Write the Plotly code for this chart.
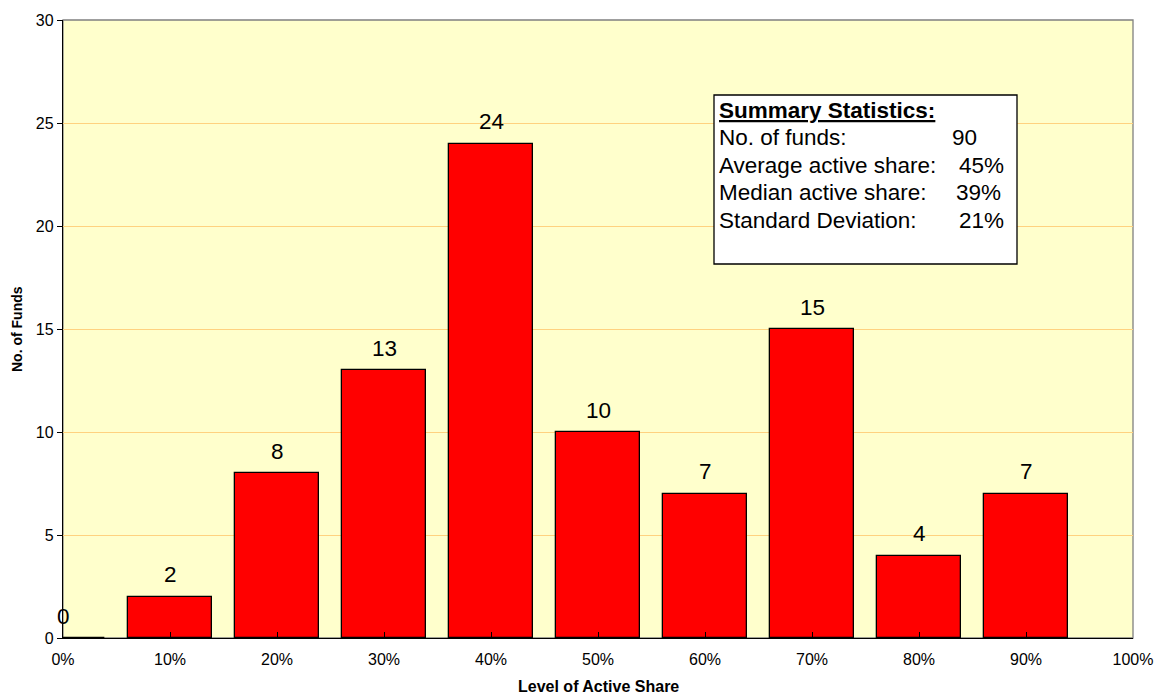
import plotly.graph_objects as go

# Data
bin_centers = [0.0, 0.1, 0.2, 0.3, 0.4, 0.5, 0.6, 0.7, 0.8, 0.9]
fund_counts = [0, 2, 8, 13, 24, 10, 7, 15, 4, 7]
x_tick_vals = [0.0, 0.1, 0.2, 0.3, 0.4, 0.5, 0.6, 0.7, 0.8, 0.9, 1.0]
x_tick_text = ["0%", "10%", "20%", "30%", "40%", "50%", "60%", "70%", "80%", "90%", "100%"]
y_tick_vals = [0, 5, 10, 15, 20, 25, 30]
stat_labels = ["No. of funds:", "Average active share:", "Median active share:", "Standard Deviation:"]
stat_values = ["90", "45%", "39%", "21%"]
x_title = "Level of Active Share"
y_title = "No. of Funds"

FONT = "Liberation Sans, Arial, sans-serif"

# plot-area geometry (pixels) used to place the summary box and titles
W, H = 1156, 694
L, R, T, B = 63, 23, 20, 56
PW, PH = W - L - R, H - T - B


def px(xp):
    return (xp - L) / PW


def py(yp):
    return (H - B - yp) / PH


fig = go.Figure()
fig.add_trace(go.Bar(
    x=bin_centers, y=fund_counts, width=0.078,
    marker=dict(color="#FF0000", line=dict(color="#000000", width=1.3)),
    hoverinfo="skip",
))

annotations = []
for xv, yv in zip(bin_centers, fund_counts):
    annotations.append(dict(
        x=xv, y=yv, xref="x", yref="y", text=str(yv), showarrow=False,
        yanchor="middle", xanchor="center", yshift=22,
        font=dict(family=FONT, size=22.5, color="#000000"),
    ))

# summary statistics box
annotations.append(dict(
    x=px(717), y=py(111), xref="paper", yref="paper", xanchor="left", yanchor="middle",
    text="<u><b>Summary Statistics:</b></u>", showarrow=False,
    font=dict(family=FONT, size=22.5, color="#000000"),
))
line_y = [137, 165, 193, 221]
val_x = [950, 957, 954, 957]
for lab, val, yy, vx in zip(stat_labels, stat_values, line_y, val_x):
    annotations.append(dict(
        x=px(717), y=py(yy), xref="paper", yref="paper", xanchor="left", yanchor="middle",
        text=lab, showarrow=False, font=dict(family=FONT, size=22.5, color="#000000"),
    ))
    annotations.append(dict(
        x=px(vx), y=py(yy), xref="paper", yref="paper", xanchor="left", yanchor="middle",
        text=val, showarrow=False, font=dict(family=FONT, size=22.5, color="#000000"),
    ))

# axis titles
annotations.append(dict(
    x=0.5, y=py(687), xref="paper", yref="paper", xanchor="center", yanchor="middle",
    text="<b>" + x_title + "</b>", showarrow=False,
    font=dict(family=FONT, size=16, color="#000000"),
))
annotations.append(dict(
    x=px(17), y=0.5, xref="paper", yref="paper", xanchor="center", yanchor="middle",
    text="<b>" + y_title + "</b>", showarrow=False, textangle=-90,
    font=dict(family=FONT, size=14, color="#000000"),
))

shapes = [
    # gray plot border (top/right)
    dict(type="rect", xref="paper", yref="paper", x0=0, x1=1, y0=0, y1=1,
         line=dict(color="#808080", width=1.3), layer="below"),
    # summary box
    dict(type="rect", xref="paper", yref="paper", x0=px(714), x1=px(1017), y0=py(264), y1=py(95),
         line=dict(color="#000000", width=1.3), fillcolor="#FFFFFF", layer="above"),
]

fig.update_layout(
    width=W, height=H,
    margin=dict(l=L, r=R, t=T, b=B, pad=0),
    paper_bgcolor="#FFFFFF",
    plot_bgcolor="#FFFFCC",
    showlegend=False,
    bargap=0,
    font=dict(family=FONT, size=16, color="#000000"),
    annotations=annotations,
    shapes=shapes,
    xaxis=dict(
        range=[0, 1], tickmode="array", tickvals=x_tick_vals, ticktext=x_tick_text,
        ticks="inside", ticklen=6, tickcolor="#000000", tickwidth=1,
        ticklabelstandoff=7, automargin=False,
        showline=True, linecolor="#000000", linewidth=1.3,
        showgrid=False, zeroline=False,
        tickfont=dict(family=FONT, size=16),
    ),
    yaxis=dict(
        range=[0, 30], tickmode="array", tickvals=y_tick_vals,
        ticks="outside", ticklen=5, tickcolor="#000000", tickwidth=1,
        automargin=False,
        showline=True, linecolor="#000000", linewidth=1.3,
        showgrid=True, gridcolor="#FFD27F", gridwidth=1, zeroline=False,
        tickfont=dict(family=FONT, size=16),
    ),
)

fig.write_html("out.html")
